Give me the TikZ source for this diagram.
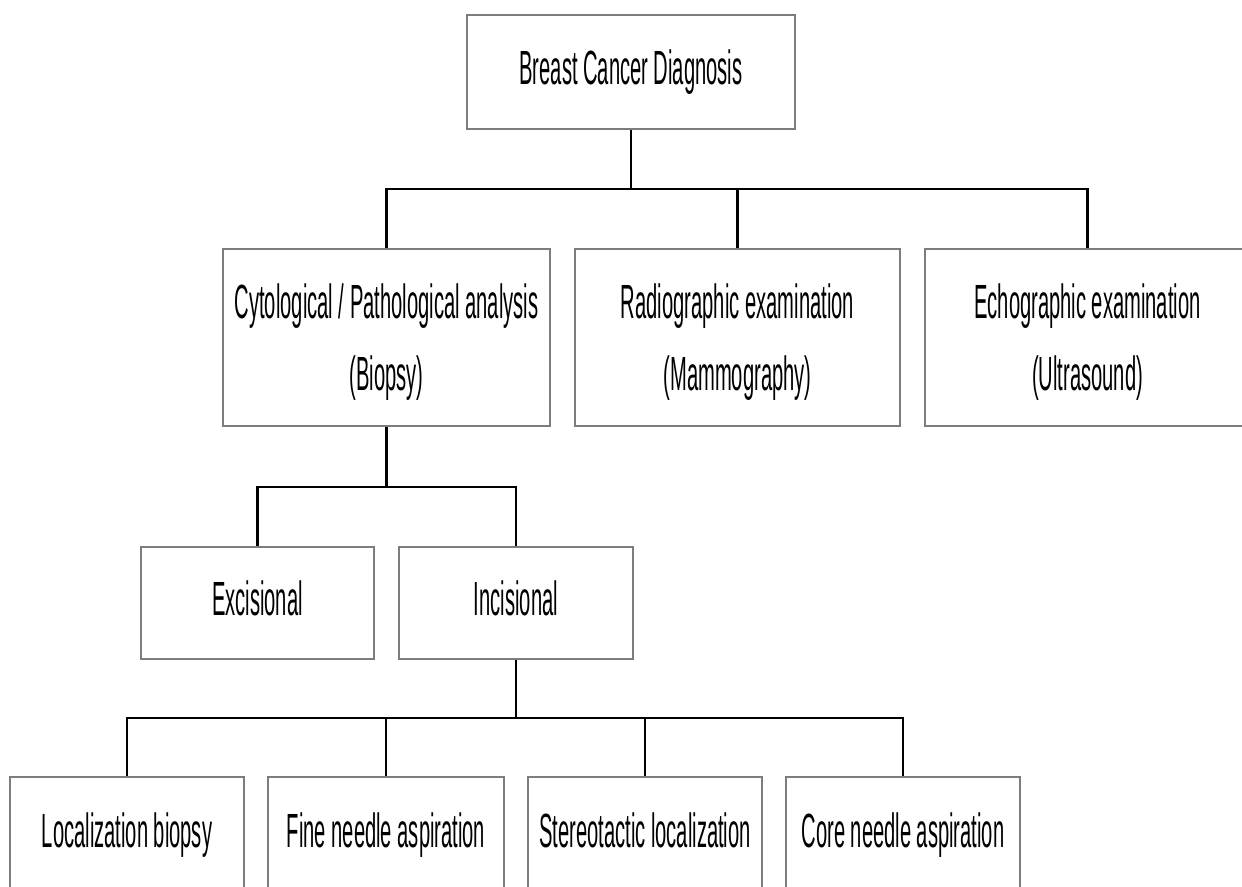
\documentclass[tikz,border=0pt]{standalone}
\usepackage{fontspec}
\newfontfamily\condfont[FakeStretch=0.42]{Liberation Sans}
\definecolor{boxgray}{RGB}{125,125,125}
\newcommand{\topstrut}{\rule{0pt}{0.9em}}
\begin{document}
\begin{tikzpicture}[x=0.5pt,y=-0.5pt,
  box/.style={draw=boxgray, line width=0.8pt, fill=white, rectangle,
    inner sep=0pt, align=center,
    font=\condfont\fontsize{24}{36}\selectfont},
  onebox/.style={box, text height=1.27em, text depth=0pt},
  conn/.style={draw=black, line width=1.1pt}]
\useasboundingbox (0,0) rectangle (1242,887);
\clip (0,0) rectangle (1242,887);
\fill[white] (0,0) rectangle (1242,887);

% root
\node[onebox, minimum width=328*0.5pt, minimum height=114*0.5pt] (root) at (631,72) {Breast Cancer Diagnosis};

% second level
\node[box, minimum width=327*0.5pt, minimum height=177*0.5pt] (cyto) at (386.5,337.5) {\topstrut Cytological / Pathological analysis\\(Biopsy)};
\node[box, minimum width=325*0.5pt, minimum height=177*0.5pt] (radio) at (737.5,337.5) {\topstrut Radiographic examination\\(Mammography)};
\node[box, minimum width=325*0.5pt, minimum height=177*0.5pt] (echo) at (1087.5,337.5) {\topstrut Echographic examination\\(Ultrasound)};

% biopsy types
\node[onebox, minimum width=233*0.5pt, minimum height=112*0.5pt] (exc) at (257.5,603) {Excisional};
\node[onebox, minimum width=234*0.5pt, minimum height=112*0.5pt] (inc) at (516,603) {Incisional};

% incisional techniques
\node[onebox, minimum width=234*0.5pt, minimum height=116*0.5pt] (loc) at (127,835) {Localization biopsy};
\node[onebox, minimum width=236*0.5pt, minimum height=116*0.5pt] (fna) at (386,835) {Fine needle aspiration};
\node[onebox, minimum width=234*0.5pt, minimum height=116*0.5pt] (ster) at (645,835) {Stereotactic localization};
\node[onebox, minimum width=234*0.5pt, minimum height=116*0.5pt] (core) at (903,835) {Core needle aspiration};

% bus lines
\coordinate (busA) at (0,189);
\coordinate (busB) at (0,487);
\coordinate (busC) at (0,718);

\draw[conn] (root.south) -- (root.south |- busA);
\draw[conn] (cyto.north) -- (cyto.north |- busA) -- (echo.north |- busA) -- (echo.north);
\draw[conn] (radio.north) -- (radio.north |- busA);

\draw[conn] (cyto.south) -- (cyto.south |- busB);
\draw[conn] (exc.north) -- (exc.north |- busB) -- (inc.north |- busB) -- (inc.north);

\draw[conn] (inc.south) -- (inc.south |- busC);
\draw[conn] (loc.north) -- (loc.north |- busC) -- (core.north |- busC) -- (core.north);
\draw[conn] (fna.north) -- (fna.north |- busC);
\draw[conn] (ster.north) -- (ster.north |- busC);
\end{tikzpicture}
\end{document}
